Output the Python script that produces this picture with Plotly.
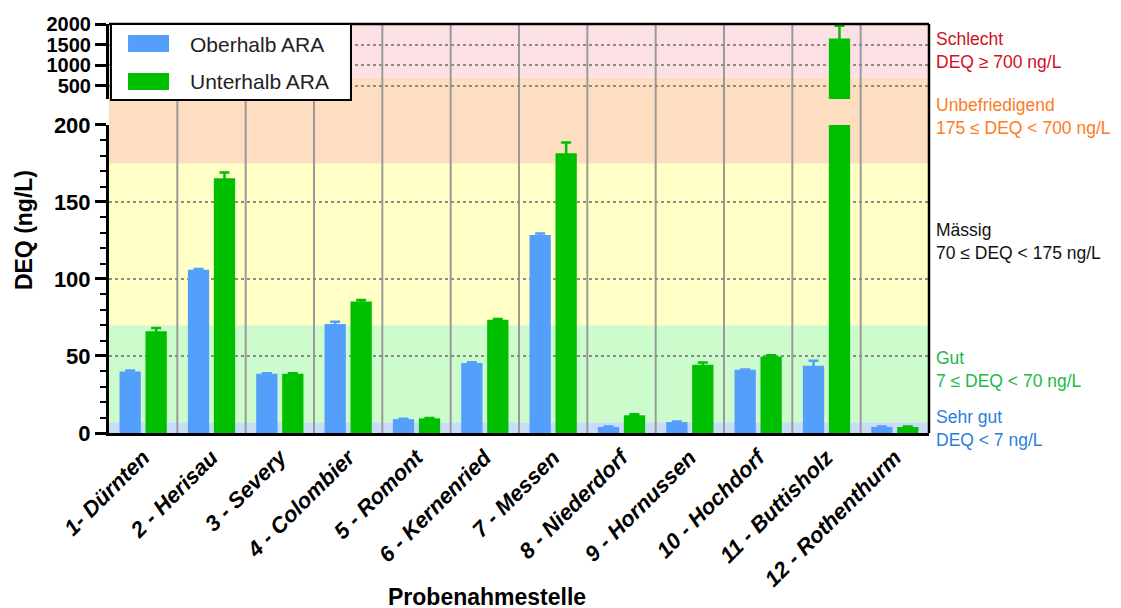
import plotly.graph_objects as go

categories = ["1- Dürnten", "2 - Herisau", "3 - Severy", "4 - Colombier", "5 - Romont",
              "6 - Kernenried", "7 - Messen", "8 - Niederdorf", "9 - Hornussen",
              "10 - Hochdorf", "11 - Buttisholz", "12 - Rothenthurm"]
oberhalb = [40.0, 106, 38.5, 70.7, 9.0, 45.4, 128.6, 3.9, 7.1, 41.0, 43.7, 3.9]
oberhalb_err = [0.5, 0.5, 0.3, 1.5, 0.3, 0.5, 1.0, 0.3, 0.3, 0.3, 3.2, 0.3]
unterhalb = [66.0, 165.4, 38.5, 85.4, 9.5, 73.5, 181.6, 11.5, 44.3, 49.7, 1650, 3.9]
unterhalb_err = [2.2, 3.8, 0.3, 1.0, 0.3, 0.5, 7.0, 0.6, 1.5, 0.8, 310, 0.3]

lower_ticks = [0, 50, 100, 150, 200]
upper_ticks = [500, 1000, 1500, 2000]

# quality classes
class_bounds = [0, 7, 70, 175, 700, 2000]
class_fill = ["#c9dcf7", "#ccfccc", "#ffffc6", "#fddec0", "#fde0e3"]
class_names = ["Sehr gut", "Gut", "Mässig", "Unbefriedigend", "Schlecht"]
class_rules = ["DEQ < 7 ng/L", "7 ≤ DEQ < 70 ng/L", "70 ≤ DEQ < 175 ng/L",
               "175 ≤ DEQ < 700 ng/L", "DEQ ≥ 700 ng/L"]
class_text_color = ["#2a7fdb", "#1db84a", "#111111", "#ff7a1f", "#d0101e"]
class_label_y = [0.012, 0.156, 0.467, 0.773, 0.934]

series_names = ["Oberhalb ARA", "Unterhalb ARA"]
BLUE = "#559ffc"
GREEN = "#00bf00"
series_colors = [BLUE, GREEN]
FONT = "Liberation Sans, Arial, sans-serif"

LOW_RANGE = [0, 200]
UP_RANGE = [185, 2000]
LOW_DOMAIN = [0, 0.7531]
UP_DOMAIN = [0.8166, 1.0]

fig = go.Figure()
x = list(range(len(categories)))


def upper_part(vals):
    return [v if v > UP_RANGE[0] else None for v in vals]


for vals, errs, name, col in zip([oberhalb, unterhalb], [oberhalb_err, unterhalb_err],
                                  series_names, series_colors):
    fig.add_trace(go.Bar(
        x=x, y=vals, name=name, marker=dict(color=col, line=dict(width=0)),
        error_y=dict(type="data", array=errs, color=col, thickness=2.5, width=5),
        yaxis="y", showlegend=False))
for vals, errs, name, col in zip([oberhalb, unterhalb], [oberhalb_err, unterhalb_err],
                                  series_names, series_colors):
    fig.add_trace(go.Bar(
        x=x, y=upper_part(vals), name=name, marker=dict(color=col, line=dict(width=0)),
        error_y=dict(type="data", array=errs, color=col, thickness=2.5, width=5),
        yaxis="y2", showlegend=False))

shapes = []
for lo, hi, col in zip(class_bounds[:-1], class_bounds[1:], class_fill):
    l0, l1 = max(lo, LOW_RANGE[0]), min(hi, LOW_RANGE[1])
    if l1 > l0:
        shapes.append(dict(type="rect", xref="paper", yref="y", x0=0, x1=1, y0=l0, y1=l1,
                           fillcolor=col, line=dict(width=0), layer="below"))
    u0, u1 = max(lo, UP_RANGE[0]), min(hi, UP_RANGE[1])
    if u1 > u0:
        shapes.append(dict(type="rect", xref="paper", yref="y2", x0=0, x1=1, y0=u0, y1=u1,
                           fillcolor=col, line=dict(width=0), layer="below"))
shapes.append(dict(type="rect", xref="paper", yref="paper", x0=0, x1=1,
                   y0=LOW_DOMAIN[1], y1=UP_DOMAIN[0], fillcolor=class_fill[3],
                   line=dict(width=0), layer="below"))
for i in range(len(categories) - 1):
    shapes.append(dict(type="line", xref="x", yref="paper", x0=i + 0.5, x1=i + 0.5,
                       y0=0, y1=1, line=dict(color="#9a9a9a", width=2), layer="below"))
shapes.append(dict(type="line", xref="paper", yref="paper", x0=0, x1=1, y0=1, y1=1,
                   line=dict(color="black", width=2.5)))
shapes.append(dict(type="line", xref="paper", yref="paper", x0=1, x1=1, y0=0, y1=1,
                   line=dict(color="black", width=2.5)))

# legend box (drawn as shapes + text)
shapes.append(dict(type="rect", xref="paper", yref="paper", x0=0.0024, x1=0.2951,
                   y0=0.8142, y1=1.0, fillcolor="white", line=dict(color="black", width=2)))
legend_swatch_y = [(0.9315, 0.9731), (0.8386, 0.8802)]
legend_text_y = [0.9511, 0.8606]
for (y0, y1), col in zip(legend_swatch_y, series_colors):
    shapes.append(dict(type="rect", xref="paper", yref="paper", x0=0.0232, x1=0.0732,
                       y0=y0, y1=y1, fillcolor=col, line=dict(width=0)))

annotations = []
for name, yy in zip(series_names, legend_text_y):
    annotations.append(dict(xref="paper", yref="paper", x=0.0963, y=yy, xanchor="left",
                            yanchor="middle", showarrow=False, text=name,
                            font=dict(family=FONT, size=21, color="#222")))
for name, rule, col, yy in zip(class_names, class_rules, class_text_color, class_label_y):
    annotations.append(dict(xref="paper", yref="paper", x=1.006, y=yy, xanchor="left",
                            yanchor="middle", align="left", showarrow=False,
                            text=f"{name}<br>{rule}",
                            font=dict(family=FONT, size=17.5, color=col)))
annotations.append(dict(xref="paper", yref="paper", x=(487 - 109) / 820, y=-0.401,
                        xanchor="center", yanchor="middle",
                        showarrow=False, text="Probenahmestelle",
                        font=dict(family=FONT, size=23, color="black", weight="bold")))
annotations.append(dict(xref="paper", yref="paper", x=-0.1037, y=0.496, textangle=-90,
                        xanchor="center", yanchor="middle",
                        showarrow=False, text="DEQ (ng/L)",
                        font=dict(family=FONT, size=23, color="black", weight="bold")))

fig.update_layout(
    width=1121, height=608,
    # the page is shown with an 8px body margin, so the plot area is shifted accordingly
    margin=dict(l=101, r=200, t=16, b=183),
    paper_bgcolor="white", plot_bgcolor="white",
    barmode="group", bargap=0.24, bargroupgap=0.18,
    shapes=shapes, annotations=annotations,
    showlegend=False,
    xaxis=dict(range=[-0.5, len(categories) - 0.5], tickvals=x, ticktext=categories,
               tickangle=-45, showgrid=False, zeroline=False, automargin=False,
               showline=True, linecolor="black", linewidth=3, ticks="",
               tickfont=dict(family=FONT, size=22, color="black", weight="bold", style="italic"),
               anchor="y"),
    yaxis=dict(domain=LOW_DOMAIN, range=LOW_RANGE, tickvals=lower_ticks, automargin=False,
               showgrid=True, gridcolor="#8c8c8c", griddash="dot", gridwidth=1.5,
               zeroline=False, showline=True, linecolor="black", linewidth=3,
               ticks="outside", ticklen=11, tickwidth=2.5, tickcolor="black",
               minor=dict(dtick=10, ticks="outside", ticklen=6, tickwidth=2, tickcolor="black",
                          showgrid=False),
               tickfont=dict(family=FONT, size=22, color="black", weight="bold"), anchor="x"),
    yaxis2=dict(domain=UP_DOMAIN, range=UP_RANGE, tickvals=upper_ticks, automargin=False,
                showgrid=True, gridcolor="#8c8c8c", griddash="dot", gridwidth=1.5,
                zeroline=False, showline=True, linecolor="black", linewidth=3,
                ticks="outside", ticklen=11, tickwidth=2.5, tickcolor="black",
                tickfont=dict(family=FONT, size=20, color="black", weight="bold"), anchor="x"),
)

fig.write_html("out.html")
